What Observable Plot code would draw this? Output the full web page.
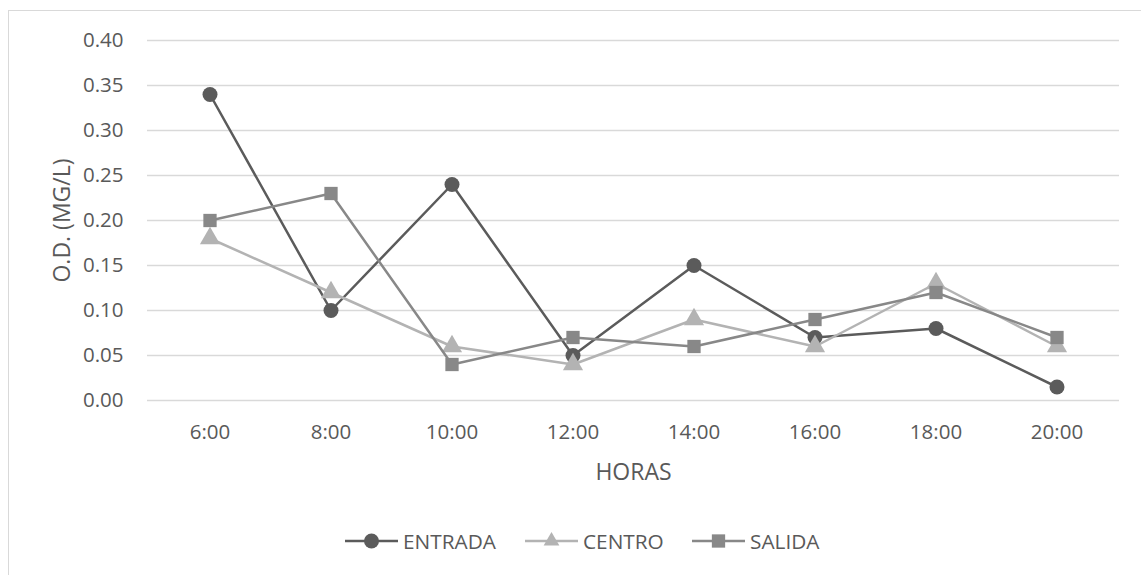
<!DOCTYPE html>
<html>
<head>
<meta charset="utf-8">
<script src="https://cdn.jsdelivr.net/npm/d3@7"></script>
<script src="https://cdn.jsdelivr.net/npm/@observablehq/plot@0.6"></script>
<style>
  html, body { margin: 0; padding: 0; background: white; overflow: hidden; }
  body { width: 1141px; height: 575px; position: relative; font-family: "Open Sans", sans-serif; }
  #frame { position: absolute; left: 8px; top: 10px; width: 1160px; height: 620px; border: 1.5px solid #d9d9d9; pointer-events: none; box-sizing: border-box; }
  #chart { position: absolute; left: 0; top: 0; }
  #legend { position: absolute; left: 0; top: 528px; width: 1141px; height: 26px; font-size: 20.8px; color: #595959; }
  .item { position: absolute; top: 0; display: flex; align-items: center; height: 26px; white-space: nowrap; }
  .item svg { margin-right: 5px; }
</style>
</head>
<body>
<div id="chart"></div>
<div id="legend"></div>
<div id="frame"></div>
<script>
const hours = ["6:00", "8:00", "10:00", "12:00", "14:00", "16:00", "18:00", "20:00"];
const entrada = [0.34, 0.10, 0.24, 0.05, 0.15, 0.07, 0.08, 0.015];
const centro = [0.18, 0.12, 0.06, 0.04, 0.09, 0.06, 0.13, 0.06];
const salida = [0.20, 0.23, 0.04, 0.07, 0.06, 0.09, 0.12, 0.07];
const seriesNames = ["ENTRADA", "CENTRO", "SALIDA"];
const seriesColors = ["#5b5b5b", "#b3b3b3", "#888888"];
const seriesSymbols = ["circle", "triangle", "square"];
const yTicks = [0, 0.05, 0.10, 0.15, 0.20, 0.25, 0.30, 0.35, 0.40];

const seriesValues = [entrada, centro, salida];
const rows = seriesNames.flatMap((s, i) => hours.map((h, j) => ({series: s, hour: h, value: seriesValues[i][j]})));

const seriesMarks = seriesNames.flatMap(s => {
  const d = rows.filter(r => r.series === s);
  return [
    Plot.line(d, {x: "hour", y: "value", stroke: "series", strokeWidth: 2.5}),
    Plot.dot(d, {x: "hour", y: "value", symbol: "series", fill: "series", r: 7.5})
  ];
});

const chart = Plot.plot({
  width: 1141,
  height: 515,
  marginLeft: 147,
  marginRight: 22,
  marginTop: 40,
  marginBottom: 115,
  style: {fontFamily: "Open Sans", fontSize: "20px", color: "#595959", background: "transparent"},
  x: {type: "band", domain: hours, padding: 0},
  y: {domain: [0, 0.4]},
  color: {domain: seriesNames, range: seriesColors},
  symbol: {domain: seriesNames, range: seriesSymbols},
  marks: [
    Plot.gridY(yTicks, {stroke: "#d9d9d9", strokeOpacity: 1, strokeWidth: 1.3}),
    Plot.axisY(yTicks, {tickSize: 0, tickPadding: 24, fontSize: 20.5, tickFormat: d => d.toFixed(2), label: null, fill: "#595959"}),
    Plot.axisY(yTicks, {tickSize: 0, tickFormat: () => "", fontSize: 23, label: "O.D. (MG/L)", labelAnchor: "center", labelArrow: "none", labelOffset: 94, fill: "#595959"}),
    Plot.axisX({tickSize: 0, tickPadding: 24, fontSize: 20.5, label: null, fill: "#595959"}),
    Plot.axisX({tickSize: 0, tickFormat: () => "", fontSize: 23, label: "HORAS", labelAnchor: "center", labelArrow: "none", labelOffset: 79, fill: "#595959"}),
    ...seriesMarks
  ]
});
document.getElementById("chart").appendChild(chart);

const legend = document.getElementById("legend");
const legendLefts = [345, 525, 692];
const sym = {circle: d3.symbolCircle, triangle: d3.symbolTriangle2, square: d3.symbolSquare};
seriesNames.forEach((s, i) => {
  const item = document.createElement("div");
  item.className = "item";
  item.style.left = legendLefts[i] + "px";
  const svg = d3.create("svg").attr("width", 53).attr("height", 20);
  svg.append("line").attr("x1", 0).attr("x2", 53).attr("y1", 10).attr("y2", 10).attr("stroke", seriesColors[i]).attr("stroke-width", 2.5);
  svg.append("path").attr("transform", "translate(26.5,10)").attr("d", d3.symbol(sym[seriesSymbols[i]], Math.PI * 7.5 * 7.5)()).attr("fill", seriesColors[i]);
  item.appendChild(svg.node());
  const t = document.createElement("span");
  t.textContent = s;
  item.appendChild(t);
  legend.appendChild(item);
});
</script>
</body>
</html>
